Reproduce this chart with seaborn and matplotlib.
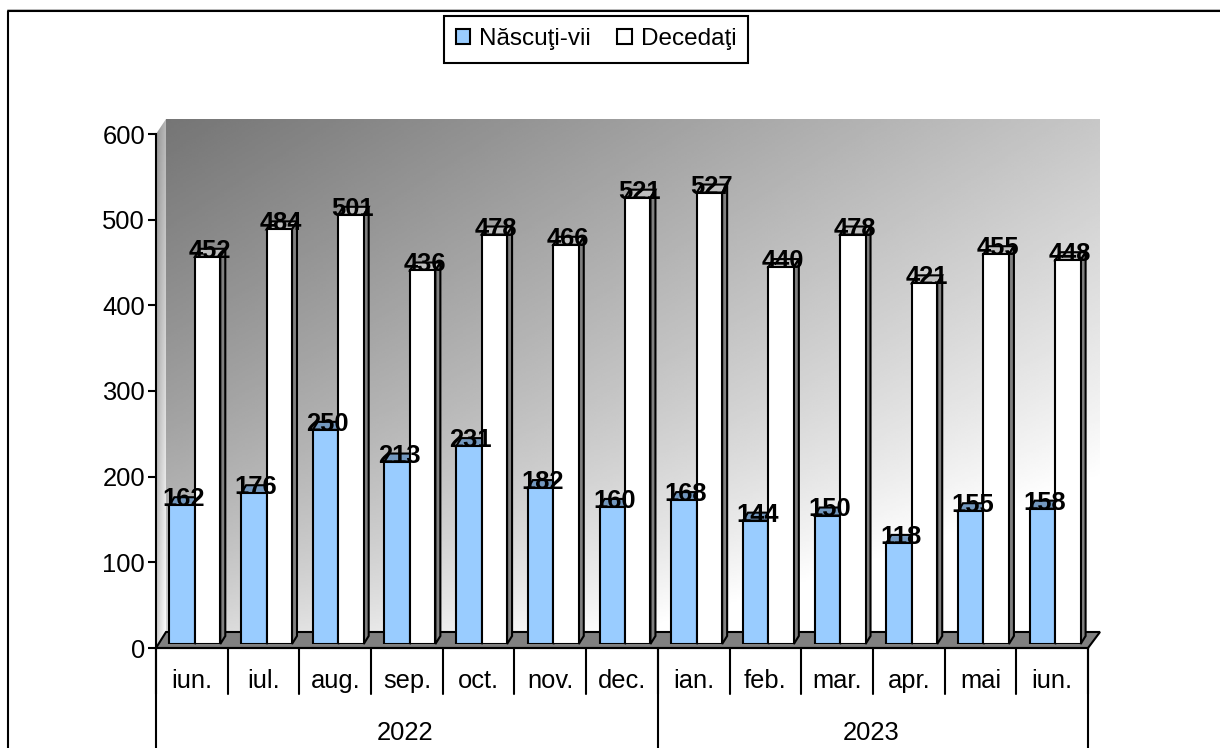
import numpy as np
import pandas as pd
import matplotlib
matplotlib.use('Agg')
import matplotlib.pyplot as plt
from matplotlib.patches import Polygon, Rectangle
import seaborn as sns

# ------------------------------------------------------------
# date
# ------------------------------------------------------------
luni = ['iun.', 'iul.', 'aug.', 'sep.', 'oct.', 'nov.', 'dec.',
        'ian.', 'feb.', 'mar.', 'apr.', 'mai', 'iun.']
ani = ['2022', '2023']
luni_pe_an = [7, 6]
nascuti = [162, 176, 250, 213, 231, 182, 160, 168, 144, 150, 118, 155, 158]
decedati = [452, 484, 501, 436, 478, 466, 521, 527, 440, 478, 421, 455, 448]
serii = ['Născuţi-vii', 'Decedaţi']
culori = ['#99CCFF', '#FFFFFF']
culori_sus = ['#7398BF', '#BFBFBF']
y_ticks = [0, 100, 200, 300, 400, 500, 600]

W, H = 1220, 748
# pozitiile planului frontal, in pixeli
X0, X1, Y0, Y600 = 156, 1088, 648, 134
DX, DY = 10, 16  # adancimea peretelui

perioade = [f'{i:02d} {l}' for i, l in enumerate(luni)]
df = pd.DataFrame({
    'perioada': perioade * 2,
    'serie': [serii[0]] * len(luni) + [serii[1]] * len(luni),
    'valoare': nascuti + decedati,
})

sns.set_theme(style='white')
plt.rcParams['font.family'] = ['Liberation Sans', 'DejaVu Sans']
FS = 18.4
LW = 1.5

fig = plt.figure(figsize=(W / 100, H / 100), dpi=100, facecolor='white')


def rect_px(x0, x1, y_jos, y_sus):
    return [x0 / W, 1 - y_jos / H, (x1 - x0) / W, (y_jos - y_sus) / H]


# ------------------------------------------------------------
# fundal: cadru, pereti, podea (coordonate in pixeli)
# ------------------------------------------------------------
bg = fig.add_axes([0, 0, 1, 1], zorder=0)
bg.set_xlim(0, W)
bg.set_ylim(H, 0)
bg.axis('off')

# cadrul graficului: doar stanga si sus, plus linia gri de deasupra
bg.plot([7, W], [9, 9], color='#C0C0C0', lw=0.7, clip_on=False)
bg.plot([7.5, 7.5, W], [H, 10.5, 10.5], color='black', lw=LW, clip_on=False)

# peretele din spate, degrade pe diagonala
n = 300
u, v = np.meshgrid(np.linspace(0, 1, n), np.linspace(0, 1, n))
perete = np.clip(0.46 + 0.32 * u + 0.28 * v + 0.1 * v ** 4, 0, 1)
bg.imshow(perete, cmap='gray', vmin=0, vmax=1, aspect='auto', zorder=1,
          extent=(X0 + DX, X1 + 2 + DX, Y0 - DY, Y600 - 15))

# peretele din stanga
lat = np.linspace(0.72, 1, n)[:, None] * np.linspace(0.8, 1, 20)[None, :]
im = bg.imshow(np.clip(lat, 0, 1), cmap='gray', vmin=0, vmax=1, aspect='auto', zorder=1,
               extent=(X0, X0 + DX, Y0, Y600 - 15))
clip = Polygon([(X0, Y600), (X0 + DX, Y600 - 15), (X0 + DX, Y0 - DY), (X0, Y0)],
               closed=True, transform=bg.transData, fc='none', ec='none')
bg.add_patch(clip)
im.set_clip_path(clip)

# podeaua
bg.add_patch(Polygon([(X0, Y0), (X0 + DX, Y0 - DY), (X1 + 12, Y0 - DY), (X1, Y0)],
                     closed=True, fc='#808080', ec='black', lw=LW, zorder=2))
bg.set_xlim(0, W)
bg.set_ylim(H, 0)

# ------------------------------------------------------------
# axa principala: valori + luni + ani
# ------------------------------------------------------------
ax = fig.add_axes(rect_px(X0, X1, Y0, Y600), zorder=1)
ax.patch.set_alpha(0)
ax.set_xlim(-0.5, len(luni) - 0.5)
ax.set_ylim(0, 600)
ax.set_yticks(y_ticks)
ax.set_xticks(range(len(luni)))
ax.set_xticklabels(luni)
ax.tick_params(axis='y', left=True, length=5.8, width=LW, color='black',
               labelsize=FS, labelcolor='black', pad=2)
ax.tick_params(axis='x', bottom=False, labelsize=FS, labelcolor='black', pad=9)
for s in ['top', 'right']:
    ax.spines[s].set_visible(False)
for s in ['left', 'bottom']:
    ax.spines[s].set_color('black')
    ax.spines[s].set_linewidth(LW)

# separatoare luni / ani
trans = ax.get_xaxis_transform()
h_luna = 46 / (Y0 - Y600)
for i in range(len(luni) + 1):
    ax.plot([i - 0.5, i - 0.5], [0, -h_luna], transform=trans, color='black',
            lw=LW, clip_on=False)
start = -0.5
for an, nr in zip(ani, luni_pe_an):
    ax.plot([start, start], [0, -(H - Y0) / (Y0 - Y600)], transform=trans, color='black',
            lw=LW, clip_on=False)
    ax.text(start + nr / 2 - 0.03, -85 / (Y0 - Y600), an, transform=trans, ha='center',
            va='center', fontsize=FS, color='black')
    start += nr
ax.plot([start, start], [0, -(H - Y0) / (Y0 - Y600)], transform=trans, color='black',
        lw=LW, clip_on=False)

# ------------------------------------------------------------
# barele: o axa suprapusa, deplasata la jumatatea adancimii
# ------------------------------------------------------------
ax_bar = fig.add_axes(rect_px(X0 + 3, X1 + 3, Y0 - 4, Y600 - 4), zorder=2)
ax_bar.patch.set_alpha(0)
sns.barplot(data=df, x='perioada', y='valoare', hue='serie', order=perioade,
            hue_order=serii, palette=culori, width=0.71, gap=0, dodge=True,
            edgecolor='black', linewidth=LW, saturation=1, legend=False, ax=ax_bar)
ax_bar.set_xlim(-0.5, len(luni) - 0.5)
ax_bar.set_ylim(0, 600)
ax_bar.axis('off')

# fetele 3D si etichetele, luate din barele desenate
# zorder sub bare: fata laterala albastra ramane ascunsa de bara alba
px = ax_bar.transData
inv = ax_bar.transData.inverted()
d_x, d_y = 5, 8
for cont, sus in zip(ax_bar.containers, culori_sus):
    for bara in cont:
        x0, x1 = bara.get_x(), bara.get_x() + bara.get_width()
        val = bara.get_height()
        (xa, ya), (xb, yb) = px.transform([(x0, val), (x1, val)])
        _, yz = px.transform((x1, 0))
        pol_sus = inv.transform([(xa, ya), (xa + d_x, ya + d_y), (xb + d_x, yb + d_y), (xb, yb)])
        ax_bar.add_patch(Polygon(pol_sus, closed=True, fc=sus, ec='black', lw=LW,
                                 clip_on=False, zorder=0.5))
        pol_lat = inv.transform([(xb, yb), (xb + d_x, yb + d_y), (xb + d_x, yz + d_y), (xb, yz)])
        ax_bar.add_patch(Polygon(pol_lat, closed=True, fc='#808080', ec='black', lw=LW,
                                 clip_on=False, zorder=0.5))
for cont in ax_bar.containers:
    for bara in cont:
        ax_bar.annotate(f'{bara.get_height():.0f}',
                        (bara.get_x() + bara.get_width() / 2, bara.get_height()),
                        xytext=(2, 6), textcoords='offset pixels', ha='center',
                        va='center', fontsize=FS, fontweight='bold', color='black',
                        annotation_clip=False, zorder=6)

# ------------------------------------------------------------
# legenda
# ------------------------------------------------------------
handles = [Rectangle((0, 0), 1, 1, fc=c, ec='black', lw=LW) for c in culori]
fig.legend(handles, serii, loc='center', bbox_to_anchor=(596 / W, 1 - 39.5 / H), ncol=2,
           fontsize=17.5, labelcolor='black', frameon=True, fancybox=False,
           edgecolor='black', framealpha=1,
           handlelength=0.58, handleheight=0.58, handletextpad=0.37, columnspacing=1.1,
           borderpad=0.5, borderaxespad=0).get_frame().set_linewidth(LW)

fig.savefig('out.png', dpi=100, facecolor='white')
